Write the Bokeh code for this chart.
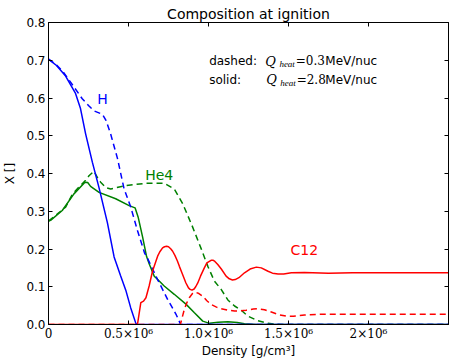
from bokeh.plotting import figure
from bokeh.models import LinearAxis, FixedTicker, Label, Range1d
from bokeh.embed import file_html
from bokeh.resources import INLINE

# Density in units of 10^6 g/cm^3
h_solid_x = [0.0, 0.05, 0.107, 0.169, 0.20, 0.232, 0.274, 0.316, 0.368, 0.41, 0.45, 0.483, 0.514, 0.546, 0.556, 2.5]
h_solid_y = [0.703, 0.686, 0.658, 0.612, 0.572, 0.505, 0.43, 0.362, 0.27, 0.179, 0.13, 0.091, 0.044, 0.003, 0.0, 0.0]

h_dash_x = [0.0, 0.044, 0.09, 0.138, 0.211, 0.25, 0.284, 0.337, 0.36, 0.389, 0.431, 0.472, 0.514, 0.556, 0.60, 0.619,
            0.682, 0.745, 0.797, 0.826, 2.5]
h_dash_y = [0.703, 0.690, 0.670, 0.642, 0.598, 0.580, 0.566, 0.557, 0.54, 0.504, 0.44, 0.36, 0.311, 0.249, 0.19, 0.175,
            0.119, 0.066, 0.027, 0.0, 0.0]

he_solid_x = [0.0, 0.013, 0.086, 0.159, 0.228, 0.245, 0.263, 0.316, 0.42, 0.504, 0.541, 0.56, 0.588, 0.613, 0.629,
              0.661, 0.692, 0.723, 0.786, 0.859, 0.912, 0.964, 1.006, 1.06, 1.121, 1.18, 1.225, 1.3, 2.5]
he_solid_y = [0.274, 0.276, 0.302, 0.346, 0.377, 0.376, 0.366, 0.350, 0.333, 0.315, 0.309, 0.285, 0.232, 0.18, 0.161,
              0.128, 0.115, 0.102, 0.080, 0.054, 0.031, 0.009, 0.003, 0.006, 0.007, 0.005, 0.002, 0.0, 0.0]

he_dash_x = [0.0, 0.044, 0.107, 0.149, 0.19, 0.232, 0.253, 0.284, 0.305, 0.326, 0.36, 0.389, 0.483, 0.609, 0.723,
             0.786, 0.839, 0.901, 0.954, 0.996, 1.037, 1.079, 1.121, 1.163, 1.204, 1.247, 1.309, 1.372, 1.45, 2.5]
he_dash_y = [0.274, 0.289, 0.311, 0.345, 0.364, 0.382, 0.394, 0.406, 0.39, 0.377, 0.362, 0.359, 0.368, 0.374, 0.374,
             0.359, 0.32, 0.258, 0.201, 0.154, 0.115, 0.093, 0.065, 0.049, 0.038, 0.022, 0.01, 0.003, 0.0, 0.0]

c_solid_x = [0.0, 0.556, 0.577, 0.594, 0.609, 0.629, 0.65, 0.682, 0.695, 0.713, 0.725, 0.738, 0.75, 0.765, 0.776,
             0.79, 0.805, 0.818, 0.835, 0.859, 0.875, 0.885, 0.897, 0.91, 0.92, 0.933, 0.95, 0.974, 0.99, 1.016,
             1.03, 1.04, 1.058, 1.08, 1.11, 1.13, 1.15, 1.167, 1.19, 1.225, 1.26, 1.299, 1.33, 1.372, 1.40, 1.435,
             1.47, 1.518, 1.6, 1.75, 1.9, 2.1, 2.3, 2.5]
c_solid_y = [0.0, 0.0, 0.058, 0.062, 0.071, 0.102, 0.141, 0.181, 0.192, 0.203, 0.206, 0.207, 0.206, 0.200, 0.194,
             0.183, 0.169, 0.154, 0.136, 0.110, 0.097, 0.093, 0.091, 0.094, 0.100, 0.110, 0.128, 0.150, 0.163, 0.170,
             0.170, 0.167, 0.159, 0.147, 0.128, 0.121, 0.118, 0.119, 0.124, 0.137, 0.147, 0.152, 0.150, 0.141, 0.136,
             0.134, 0.134, 0.137, 0.138, 0.136, 0.137, 0.137, 0.137, 0.137]

c_dash_x = [0.0, 0.824, 0.849, 0.865, 0.88, 0.90, 0.916, 0.94, 0.964, 0.99, 1.016, 1.05, 1.079, 1.12, 1.163, 1.20,
            1.236, 1.28, 1.309, 1.35, 1.393, 1.44, 1.487, 1.53, 1.6, 1.7, 1.9, 2.2, 2.5]
c_dash_y = [0.0, 0.0, 0.040, 0.058, 0.071, 0.082, 0.086, 0.082, 0.075, 0.063, 0.053, 0.046, 0.042, 0.038, 0.036, 0.036,
            0.038, 0.041, 0.042, 0.039, 0.033, 0.026, 0.022, 0.022, 0.025, 0.027, 0.027, 0.027, 0.027]

x_ticks = [0, 0.5, 1, 1.5, 2]
x_tick_labels = ["0", "0.5\u00d710\u2076", "1.0\u00d710\u2076", "1.5\u00d710\u2076", "2\u00d710\u2076"]
y_ticks = [0.0, 0.1, 0.2, 0.3, 0.4, 0.5, 0.6, 0.7, 0.8]
y_tick_labels = ["0.0", "0.1", "0.2", "0.3", "0.4", "0.5", "0.6", "0.7", "0.8"]

BLUE, GREEN, RED = "#0000ff", "#008000", "#ff0000"
SANS = "DejaVu Sans"
SERIF = "DejaVu Serif"
SERIF_NARROW = "Liberation Serif"

p = figure(width=449, height=360, output_backend="svg", toolbar_location=None,
           x_range=Range1d(0, 2.5), y_range=Range1d(0, 0.8),
           title="Composition at ignition",
           x_axis_label="Density [g/cm\u00b3]", y_axis_label="X []",
           min_border_left=48, min_border_right=1, min_border_top=22, min_border_bottom=35)
p.grid.visible = False
p.background_fill_color = "white"
p.border_fill_color = "white"
p.outline_line_color = "black"
p.outline_line_width = 1

p.title.text_font = SANS
p.title.text_font_size = "14px"
p.title.text_font_style = "normal"
p.title.text_color = "black"
p.title.align = "center"
p.title.standoff = 2

def style_axis(ax, ticks, labels, show_labels):
    ax.ticker = FixedTicker(ticks=ticks)
    if show_labels:
        ax.major_label_overrides = {t: s for t, s in zip(ticks, labels)}
    else:
        ax.major_label_overrides = {t: "" for t in ticks}
    ax.major_tick_in = 4
    ax.major_tick_out = 0
    ax.minor_tick_in = 0
    ax.minor_tick_out = 0
    ax.axis_line_color = "black"
    ax.major_tick_line_color = "black"
    ax.major_label_text_color = "black"
    ax.axis_label_text_font = SANS
    ax.axis_label_text_font_size = "12px"
    ax.axis_label_text_font_style = "normal"
    ax.axis_label_text_color = "black"

xa = p.xaxis[0]
style_axis(xa, x_ticks, x_tick_labels, True)
xa.major_label_text_font = SERIF
xa.major_label_text_font_size = "12px"
xa.major_label_standoff = 2
xa.axis_label_standoff = 0

ya = p.yaxis[0]
style_axis(ya, y_ticks, y_tick_labels, True)
ya.major_label_text_font = SANS
ya.major_label_text_font_size = "12px"
ya.major_label_standoff = 3
ya.axis_label_standoff = 6

top = LinearAxis()
style_axis(top, x_ticks, x_tick_labels, False)
top.major_label_standoff = 0
p.add_layout(top, "above")

right = LinearAxis()
style_axis(right, y_ticks, y_tick_labels, False)
right.major_label_standoff = 0
p.add_layout(right, "right")

lw = 1.5
dash = "6 4"
p.line(he_solid_x, he_solid_y, line_color=GREEN, line_width=lw)
p.line(he_dash_x, he_dash_y, line_color=GREEN, line_width=lw, line_dash=dash)
p.line(h_solid_x, h_solid_y, line_color=BLUE, line_width=lw)
p.line(h_dash_x, h_dash_y, line_color=BLUE, line_width=lw, line_dash=dash)
p.line(c_dash_x, c_dash_y, line_color=RED, line_width=lw, line_dash=dash)
p.line(c_solid_x, c_solid_y, line_color=RED, line_width=lw)

# species names next to their curves
for txt, x, y, col in [("H", 0.305, 0.598, BLUE), ("He4", 0.604, 0.397, GREEN), ("C12", 1.513, 0.197, RED)]:
    p.add_layout(Label(x=x, y=y, text=txt, text_color=col, text_font=SANS, text_font_size="14px",
                       text_baseline="alphabetic", text_align="left"))

# run legend: line style -> heating value
def add_text(x, y, txt, font, size, style="normal"):
    p.add_layout(Label(x=x, y=y, text=txt, text_font=font, text_font_size=size, text_font_style=style,
                       text_color="black", text_baseline="alphabetic", text_align="left"))

for line_y, sub_y, word, qx, val in [(0.698, 0.690, "dashed:", 1.355, "0.3"), (0.648, 0.640, "solid:", 1.361, "2.8")]:
    add_text(1.004, line_y, word, SANS, "12px")
    add_text(qx, line_y, "Q", SERIF, "13px", "italic")
    add_text(qx + 0.088, sub_y, "heat", SERIF_NARROW, "9px", "italic")
    add_text(qx + 0.19, line_y, "=" + val, SERIF, "12px")
    add_text(1.73, line_y, "MeV/nuc", SANS, "12px")

open("out.html", "w").write(file_html(p, INLINE))
